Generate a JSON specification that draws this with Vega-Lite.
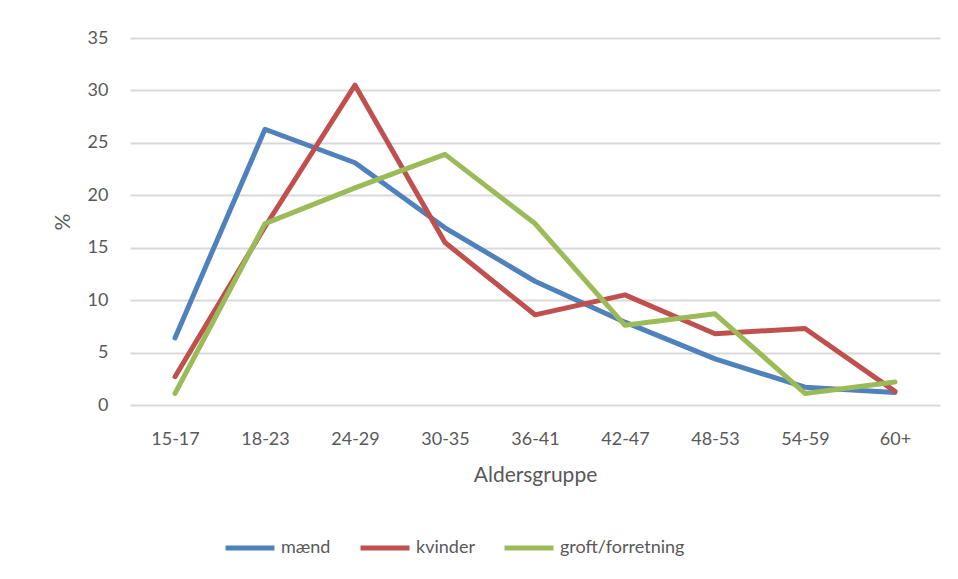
{
  "$schema": "https://vega.github.io/schema/vega-lite/v6.json",
  "autosize": "none",
  "width": 810,
  "height": 367,
  "padding": {"left": 130, "top": 38, "right": 18, "bottom": 174},
  "background": "white",
  "data": {
    "values": [
      {"age": "15-17", "series": "mænd", "pct": 6.4},
      {"age": "18-23", "series": "mænd", "pct": 26.3},
      {"age": "24-29", "series": "mænd", "pct": 23.1},
      {"age": "30-35", "series": "mænd", "pct": 16.9},
      {"age": "36-41", "series": "mænd", "pct": 11.8},
      {"age": "42-47", "series": "mænd", "pct": 7.9},
      {"age": "48-53", "series": "mænd", "pct": 4.4},
      {"age": "54-59", "series": "mænd", "pct": 1.7},
      {"age": "60+", "series": "mænd", "pct": 1.2},
      {"age": "15-17", "series": "kvinder", "pct": 2.7},
      {"age": "18-23", "series": "kvinder", "pct": 17.0},
      {"age": "24-29", "series": "kvinder", "pct": 30.5},
      {"age": "30-35", "series": "kvinder", "pct": 15.5},
      {"age": "36-41", "series": "kvinder", "pct": 8.6},
      {"age": "42-47", "series": "kvinder", "pct": 10.5},
      {"age": "48-53", "series": "kvinder", "pct": 6.8},
      {"age": "54-59", "series": "kvinder", "pct": 7.3},
      {"age": "60+", "series": "kvinder", "pct": 1.3},
      {"age": "15-17", "series": "groft/forretning", "pct": 1.1},
      {"age": "18-23", "series": "groft/forretning", "pct": 17.3},
      {"age": "24-29", "series": "groft/forretning", "pct": 20.7},
      {"age": "30-35", "series": "groft/forretning", "pct": 23.9},
      {"age": "36-41", "series": "groft/forretning", "pct": 17.3},
      {"age": "42-47", "series": "groft/forretning", "pct": 7.6},
      {"age": "48-53", "series": "groft/forretning", "pct": 8.7},
      {"age": "54-59", "series": "groft/forretning", "pct": 1.1},
      {"age": "60+", "series": "groft/forretning", "pct": 2.2}
    ]
  },
  "mark": {"type": "line", "strokeWidth": 5, "strokeCap": "round", "strokeJoin": "round"},
  "encoding": {
    "x": {
      "field": "age", "type": "ordinal",
      "sort": ["15-17","18-23","24-29","30-35","36-41","42-47","48-53","54-59","60+"],
      "scale": {"type": "point", "padding": 0.5},
      "axis": {
        "title": "Aldersgruppe",
        "labelAngle": 0,
        "ticks": false,
        "domain": false,
        "grid": false,
        "labelPadding": 25,
        "titlePadding": 16
      }
    },
    "y": {
      "field": "pct", "type": "quantitative",
      "scale": {"domain": [0, 35], "nice": false},
      "axis": {
        "title": "%",
        "values": [0, 5, 10, 15, 20, 25, 30, 35],
        "ticks": false,
        "domain": false,
        "grid": true,
        "gridColor": "#d9d9d9",
        "gridWidth": 2,
        "labelPadding": 22,
        "titlePadding": 14
      }
    },
    "color": {
      "field": "series", "type": "nominal",
      "sort": ["mænd", "kvinder", "groft/forretning"],
      "scale": {"domain": ["mænd", "kvinder", "groft/forretning"], "range": ["#4F81BD", "#C0504D", "#9BBB59"]},
      "legend": {
        "title": null,
        "orient": "none",
        "direction": "horizontal",
        "legendX": 93,
        "legendY": 483,
        "symbolType": "stroke",
        "symbolSize": 2400,
        "symbolStrokeWidth": 5,
        "labelOffset": 4,
        "columnPadding": 19
      }
    }
  },
  "config": {
    "view": {"stroke": null},
    "font": "Lato",
    "axis": {
      "labelFont": "Lato", "labelFontSize": 18, "labelColor": "#595959",
      "titleFont": "Lato", "titleFontSize": 21, "titleFontWeight": "normal", "titleColor": "#595959"
    },
    "legend": {"labelFont": "Lato", "labelFontSize": 18, "labelColor": "#595959"}
  }
}
